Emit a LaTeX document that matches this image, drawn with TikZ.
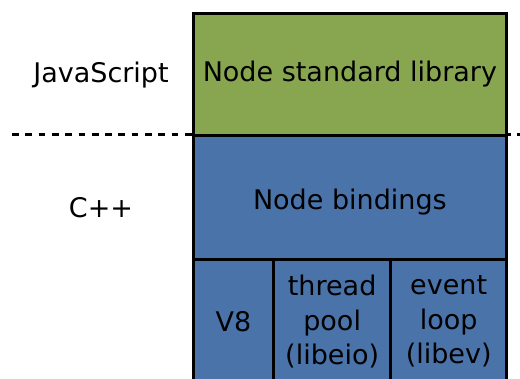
\documentclass[tikz,border=0pt]{standalone}
\usepackage{fontspec}
\setmainfont{DejaVu Sans}
\definecolor{jsgreen}{RGB}{136,165,80}
\definecolor{cblue}{RGB}{73,115,169}
\begin{document}
\begin{tikzpicture}[x=1pt,y=-1pt,
  font=\fontsize{27}{34.5}\selectfont,
  layer/.style={draw=black, line width=3.3pt, inner sep=0pt, align=center, anchor=north west},
  sep/.style={draw=black, line width=3pt, dash pattern=on 6.7pt off 6.6pt},
  lbl/.style={inner sep=0pt, anchor=base}]
\useasboundingbox (0,0) rectangle (520,378);
\clip (0,0) rectangle (520,378);
\coordinate (dashL) at (12,134);
\coordinate (dashR) at (524,134);
\draw[sep] (dashL) -- (dashR);
\node[layer, fill=jsgreen, minimum width=313.5pt, minimum height=122.5pt] (stdlib) at (191.5,11.5) {Node standard library};
\node[layer, fill=cblue, minimum width=313.5pt, minimum height=124pt, text depth=0pt, text height=24.6pt] (bindings) at (191.5,134) {Node bindings};
\node[layer, fill=cblue, minimum width=80.5pt, minimum height=124pt] (v8) at (191.5,258) {V8};
\node[layer, fill=cblue, minimum width=117pt, minimum height=124pt] (tpool) at (272,258) {thread\\pool\\(libeio)};
\node[layer, fill=cblue, minimum width=116pt, minimum height=124pt] (evloop) at (389,258) {event\\loop\\(libev)};
\node[lbl] (js) at (101,82.3) {JavaScript};
\node[lbl] (cpp) at (101,217) {C++};
\end{tikzpicture}
\end{document}
